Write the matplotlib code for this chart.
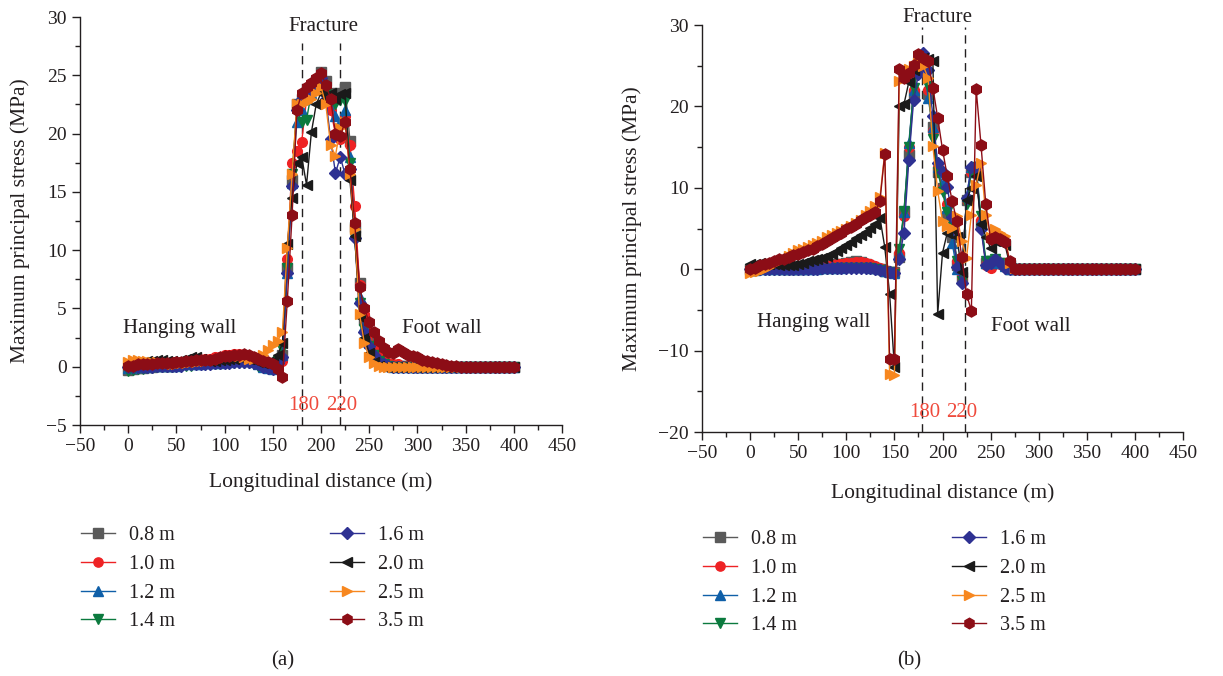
import numpy as np
import matplotlib
matplotlib.use('Agg')
import matplotlib.pyplot as plt
from matplotlib.lines import Line2D
from matplotlib.ticker import MultipleLocator

plt.rcParams['font.family'] = ['Liberation Serif', 'DejaVu Serif']
plt.rcParams['axes.unicode_minus'] = True

# Abscisses communes (m), pas de 5 m
x_dist = [0, 5, 10, 15, 20, 25, 30, 35, 40, 45,
          50, 55, 60, 65, 70, 75, 80, 85, 90, 95,
          100, 105, 110, 115, 120, 125, 130, 135, 140, 145,
          150, 155, 160, 165, 170, 175, 180, 185, 190, 195,
          200, 205, 210, 215, 220, 225, 230, 235, 240, 245,
          250, 255, 260, 265, 270, 275, 280, 285, 290, 295,
          300, 305, 310, 315, 320, 325, 330, 335, 340, 345,
          350, 355, 360, 365, 370, 375, 380, 385, 390, 395, 400]

# Panneau (a)
a_08 = [-0.3, -0.2, -0.1, -0.1, 0.0, 0.0, 0.1, 0.1, 0.1, 0.1,
        0.2, 0.2, 0.3, 0.3, 0.4, 0.4, 0.4, 0.4, 0.5, 0.5,
        0.6, 0.6, 0.7, 0.7, 0.6, 0.6, 0.5, 0.3, 0.1, 0.0,
        -0.1, 0.5, 1.0, 8.5, 16.0, 22.5, 23.0, 23.5, 24.0, 24.5,
        25.3, 24.5, 23.5, 23.0, 23.5, 24.0, 19.4, 12.0, 7.2, 4.0,
        2.5, 1.5, 0.8, 0.4, 0.2, 0.1, 0.1, 0.1, 0.1, 0.0,
        0.0, 0.0, 0.0, 0.0, 0.0, 0.0, 0.0, 0.0, 0.0, 0.0,
        0.0, 0.0, 0.0, 0.0, 0.0, 0.0, 0.0, 0.0, 0.0, 0.0, 0.0]
a_10 = [0.1, 0.1, 0.2, 0.2, 0.2, 0.3, 0.3, 0.3, 0.3, 0.4,
        0.4, 0.4, 0.5, 0.5, 0.6, 0.6, 0.7, 0.7, 0.8, 0.8,
        1.0, 1.0, 1.1, 1.1, 1.0, 0.9, 0.8, 0.6, 0.4, 0.2,
        0.0, 0.3, 0.5, 9.2, 17.5, 18.5, 19.3, 23.0, 24.0, 24.5,
        24.8, 23.5, 22.0, 20.0, 19.5, 21.5, 19.0, 13.8, 7.0, 4.5,
        3.0, 1.8, 1.0, 0.5, 0.3, 0.2, 0.2, 0.1, 0.1, 0.1,
        0.1, 0.0, 0.0, 0.0, 0.0, 0.0, 0.0, 0.0, 0.0, 0.0,
        0.0, 0.0, 0.0, 0.0, 0.0, 0.0, 0.0, 0.0, 0.0, 0.0, 0.0]
a_12 = [-0.1, -0.1, 0.0, 0.0, 0.0, 0.1, 0.1, 0.1, 0.1, 0.1,
        0.1, 0.2, 0.2, 0.2, 0.2, 0.2, 0.3, 0.3, 0.3, 0.3,
        0.4, 0.4, 0.5, 0.5, 0.5, 0.5, 0.4, 0.2, 0.0, -0.1,
        -0.2, 0.2, 1.0, 8.0, 15.8, 21.0, 22.0, 23.0, 23.5, 24.5,
        25.0, 24.0, 23.0, 21.5, 21.0, 22.0, 18.0, 11.5, 6.0, 3.5,
        2.0, 1.0, 0.5, 0.2, 0.1, 0.0, 0.0, 0.0, 0.0, 0.0,
        0.0, 0.0, 0.0, 0.0, 0.0, 0.0, 0.0, 0.0, 0.0, 0.0,
        0.0, 0.0, 0.0, 0.0, 0.0, 0.0, 0.0, 0.0, 0.0, 0.0, 0.0]
a_14 = [-0.4, -0.3, -0.2, -0.2, -0.1, -0.1, 0.0, 0.0, 0.0, 0.0,
        0.1, 0.1, 0.1, 0.1, 0.2, 0.2, 0.2, 0.2, 0.2, 0.2,
        0.3, 0.3, 0.3, 0.3, 0.3, 0.3, 0.2, 0.1, 0.0, -0.1,
        -0.2, 0.5, 1.5, 8.5, 16.5, 22.0, 21.0, 21.2, 23.5, 24.0,
        24.5, 23.5, 23.0, 22.5, 22.9, 22.8, 17.5, 11.0, 5.5, 3.2,
        1.8, 1.0, 0.5, 0.2, 0.1, 0.0, 0.0, 0.0, 0.0, 0.0,
        0.0, 0.0, 0.0, 0.0, 0.0, 0.0, 0.0, 0.0, 0.0, 0.0,
        0.0, 0.0, 0.0, 0.0, 0.0, 0.0, 0.0, 0.0, 0.0, 0.0, 0.0]
a_16 = [0.0, 0.0, 0.0, 0.0, 0.0, 0.0, 0.1, 0.1, 0.1, 0.1,
        0.1, 0.1, 0.2, 0.2, 0.2, 0.2, 0.2, 0.2, 0.3, 0.3,
        0.3, 0.3, 0.4, 0.4, 0.4, 0.4, 0.3, 0.2, 0.0, -0.1,
        -0.2, 0.3, 0.8, 8.0, 15.5, 22.0, 23.0, 23.5, 24.0, 24.5,
        24.8, 23.0, 19.5, 16.6, 18.0, 16.5, 17.0, 11.0, 5.5, 3.0,
        1.8, 1.0, 0.4, 0.2, 0.1, 0.0, 0.0, 0.0, 0.0, 0.0,
        0.0, 0.0, 0.0, 0.0, 0.0, 0.0, 0.0, 0.0, 0.0, 0.0,
        0.0, 0.0, 0.0, 0.0, 0.0, 0.0, 0.0, 0.0, 0.0, 0.0, 0.0]
a_20 = [0.2, 0.3, 0.4, 0.4, 0.5, 0.5, 0.6, 0.6, 0.5, 0.5,
        0.4, 0.6, 0.7, 0.8, 0.8, 0.7, 0.6, 0.5, 0.5, 0.6,
        0.6, 0.7, 0.7, 0.8, 0.8, 0.7, 0.6, 0.4, 0.3, 0.4,
        0.5, 1.0, 2.0, 10.5, 14.5, 17.5, 18.0, 15.6, 20.1, 22.5,
        23.5, 23.0, 23.5, 23.0, 23.4, 23.5, 16.0, 11.2, 4.3, 2.5,
        1.2, 0.4, 0.1, 0.0, 0.0, 0.0, 0.0, 0.0, 0.0, 0.0,
        0.0, 0.0, 0.0, 0.0, 0.0, 0.0, 0.0, 0.0, 0.0, 0.0,
        0.0, 0.0, 0.0, 0.0, 0.0, 0.0, 0.0, 0.0, 0.0, 0.0, 0.0]
a_25 = [0.4, 0.6, 0.6, 0.5, 0.5, 0.4, 0.4, 0.3, 0.3, 0.2,
        0.2, 0.3, 0.3, 0.4, 0.4, 0.5, 0.5, 0.6, 0.6, 0.7,
        0.8, 0.9, 0.9, 0.9, 0.8, 0.7, 0.7, 0.8, 1.0, 1.4,
        1.9, 2.2, 3.0, 10.2, 16.5, 22.5, 22.5, 22.7, 23.0, 23.5,
        24.0, 22.5, 19.0, 18.1, 20.5, 21.0, 16.5, 11.8, 4.5, 2.0,
        0.8, 0.3, 0.1, 0.0, 0.0, 0.0, 0.0, 0.0, 0.0, 0.0,
        0.0, 0.0, 0.0, 0.0, 0.0, 0.0, 0.0, 0.0, 0.0, 0.0,
        0.0, 0.0, 0.0, 0.0, 0.0, 0.0, 0.0, 0.0, 0.0, 0.0, 0.0]
a_35 = [0.1, 0.1, 0.2, 0.2, 0.2, 0.2, 0.3, 0.3, 0.3, 0.3,
        0.4, 0.4, 0.5, 0.5, 0.6, 0.6, 0.6, 0.6, 0.7, 0.8,
        0.9, 0.9, 1.0, 1.0, 1.1, 1.0, 0.8, 0.7, 0.5, 0.4,
        0.2, -0.2, -0.85, 5.6, 13.0, 22.0, 23.5, 24.0, 24.3, 24.8,
        25.2, 24.2, 23.0, 20.0, 19.8, 21.0, 17.0, 12.3, 6.8, 5.0,
        3.8, 3.0, 2.2, 1.6, 1.3, 1.2, 1.5, 1.3, 1.0, 0.9,
        0.8, 0.6, 0.5, 0.4, 0.3, 0.2, 0.15, 0.1, 0.1, 0.0,
        0.0, 0.0, 0.0, 0.0, 0.0, 0.0, 0.0, 0.0, 0.0, 0.0, 0.0]

# Panneau (b)
b_08 = [0.0, 0.0, 0.1, 0.1, 0.1, 0.1, 0.1, 0.0, 0.0, 0.0,
        0.0, 0.0, 0.1, 0.1, 0.2, 0.3, 0.4, 0.5, 0.6, 0.7,
        0.8, 0.9, 1.0, 0.9, 0.6, 0.4, 0.2, 0.0, -0.2, -0.3,
        -0.4, 1.5, 7.0, 14.0, 21.5, 25.0, 26.0, 21.5, 17.5, 12.0,
        10.0, 6.5, 4.0, 0.5, -1.0, 8.5, 12.0, 12.0, 5.5, 0.8,
        1.0, 1.0, 0.8, 0.5, 0.0, 0.0, 0.0, 0.0, 0.0, 0.0,
        0.0, 0.0, 0.0, 0.0, 0.0, 0.0, 0.0, 0.0, 0.0, 0.0,
        0.0, 0.0, 0.0, 0.0, 0.0, 0.0, 0.0, 0.0, 0.0, 0.0, 0.0]
b_10 = [0.0, 0.0, 0.1, 0.1, 0.1, 0.1, 0.1, 0.1, 0.1, 0.1,
        0.1, 0.1, 0.2, 0.2, 0.3, 0.3, 0.4, 0.5, 0.6, 0.6,
        0.8, 0.8, 0.9, 0.9, 0.8, 0.6, 0.4, 0.1, -0.1, -0.3,
        -0.4, 2.0, 6.5, 15.0, 22.0, 25.0, 26.2, 22.0, 17.0, 12.5,
        10.0, 8.0, 5.0, 1.0, -0.8, 8.5, 12.0, 12.0, 6.0, 0.5,
        0.2, 0.8, 0.6, 0.3, 0.0, 0.0, 0.0, 0.0, 0.0, 0.0,
        0.0, 0.0, 0.0, 0.0, 0.0, 0.0, 0.0, 0.0, 0.0, 0.0,
        0.0, 0.0, 0.0, 0.0, 0.0, 0.0, 0.0, 0.0, 0.0, 0.0, 0.0]
b_12 = [-0.1, -0.1, 0.0, 0.0, 0.0, 0.0, 0.0, 0.0, 0.0, 0.0,
        0.0, 0.0, 0.0, 0.0, 0.0, 0.1, 0.1, 0.1, 0.1, 0.2,
        0.3, 0.3, 0.3, 0.3, 0.3, 0.2, 0.1, 0.0, -0.2, -0.3,
        -0.5, 2.0, 7.0, 15.5, 22.0, 25.5, 26.0, 21.0, 17.5, 12.5,
        10.5, 7.5, 3.2, 0.0, -1.2, 9.0, 12.5, 12.0, 6.0, 0.8,
        0.8, 1.0, 0.8, 0.4, 0.0, 0.0, 0.0, 0.0, 0.0, 0.0,
        0.0, 0.0, 0.0, 0.0, 0.0, 0.0, 0.0, 0.0, 0.0, 0.0,
        0.0, 0.0, 0.0, 0.0, 0.0, 0.0, 0.0, 0.0, 0.0, 0.0, 0.0]
b_14 = [-0.2, -0.2, -0.1, -0.1, -0.1, -0.1, -0.1, -0.1, 0.0, 0.0,
        0.0, 0.0, 0.0, 0.0, 0.0, 0.0, 0.0, 0.0, 0.1, 0.1,
        0.2, 0.2, 0.2, 0.2, 0.1, 0.1, 0.0, -0.1, -0.3, -0.4,
        -0.6, 2.5, 7.2, 15.0, 22.3, 25.0, 25.7, 22.5, 16.0, 12.0,
        9.5, 7.0, 5.5, 1.0, -1.5, 8.0, 12.0, 12.5, 6.5, 1.0,
        1.0, 1.2, 0.8, 0.5, 0.0, 0.0, 0.0, 0.0, 0.0, 0.0,
        0.0, 0.0, 0.0, 0.0, 0.0, 0.0, 0.0, 0.0, 0.0, 0.0,
        0.0, 0.0, 0.0, 0.0, 0.0, 0.0, 0.0, 0.0, 0.0, 0.0, 0.0]
b_16 = [0.0, 0.0, 0.0, 0.0, 0.0, 0.0, 0.0, 0.0, 0.0, 0.0,
        0.0, 0.0, 0.0, 0.0, 0.0, 0.1, 0.1, 0.1, 0.1, 0.1,
        0.2, 0.2, 0.2, 0.2, 0.2, 0.1, 0.0, -0.1, -0.2, -0.3,
        -0.5, 1.3, 4.5, 13.4, 20.8, 24.0, 26.5, 24.5, 18.8, 13.0,
        11.9, 10.1, 6.4, 0.3, -1.7, 8.8, 12.6, 12.6, 5.0, 0.5,
        0.8, 1.2, 0.8, 0.2, 0.0, 0.0, 0.0, 0.0, 0.0, 0.0,
        0.0, 0.0, 0.0, 0.0, 0.0, 0.0, 0.0, 0.0, 0.0, 0.0,
        0.0, 0.0, 0.0, 0.0, 0.0, 0.0, 0.0, 0.0, 0.0, 0.0, 0.0]
b_20 = [0.6, 0.7, 0.8, 0.7, 0.6, 0.6, 0.5, 0.5, 0.5, 0.5,
        0.7, 0.8, 1.0, 1.1, 1.3, 1.4, 1.6, 1.9, 2.2, 2.6,
        3.0, 3.4, 3.8, 4.2, 4.6, 5.1, 5.6, 6.3, 2.7, -3.0,
        -12.0, 20.0, 20.3, 23.0, 24.5, 25.5, 26.0, 25.8, 25.6, -5.5,
        2.0, 4.5, 5.0, 4.0, -0.4, 8.5, 10.0, 11.4, 5.6, 4.0,
        2.6, 3.5, 3.5, 3.0, 0.5, 0.0, 0.0, 0.0, 0.0, 0.0,
        0.0, 0.0, 0.0, 0.0, 0.0, 0.0, 0.0, 0.0, 0.0, 0.0,
        0.0, 0.0, 0.0, 0.0, 0.0, 0.0, 0.0, 0.0, 0.0, 0.0, 0.0]
b_25 = [-0.5, -0.4, -0.2, 0.0, 0.3, 0.6, 1.0, 1.3, 1.6, 2.0,
        2.3, 2.5, 2.7, 3.0, 3.2, 3.5, 3.9, 4.2, 4.5, 4.7,
        5.0, 5.3, 5.7, 6.1, 6.6, 7.2, 7.8, 8.9, 14.3, -12.9,
        -13.0, 23.1, 24.1, 24.6, 25.0, 25.3, 25.0, 23.5, 15.1, 9.6,
        5.9, 5.3, 5.1, 6.5, 3.5, 1.4, 6.7, 10.4, 13.1, 6.7,
        4.0, 4.9, 4.5, 4.1, 0.8, 0.1, 0.0, 0.0, 0.0, 0.0,
        0.0, 0.0, 0.0, 0.0, 0.0, 0.0, 0.0, 0.0, 0.0, 0.0,
        0.0, 0.0, 0.0, 0.0, 0.0, 0.0, 0.0, 0.0, 0.0, 0.0, 0.0]
b_35 = [0.0, 0.2, 0.5, 0.6, 0.8, 1.0, 1.2, 1.3, 1.5, 1.7,
        1.9, 2.1, 2.3, 2.5, 2.8, 3.1, 3.5, 3.8, 4.2, 4.5,
        4.9, 5.2, 5.6, 6.0, 6.4, 6.7, 7.0, 8.4, 14.2, -11.0,
        -11.0, 24.6, 23.5, 24.1, 25.1, 26.4, 26.0, 25.6, 22.3, 18.6,
        14.7, 11.4, 8.4, 5.9, 1.5, -3.1, -5.1, 22.1, 15.3, 8.0,
        3.7, 3.9, 3.7, 3.3, 1.0, 0.0, 0.0, 0.0, 0.0, 0.0,
        0.0, 0.0, 0.0, 0.0, 0.0, 0.0, 0.0, 0.0, 0.0, 0.0,
        0.0, 0.0, 0.0, 0.0, 0.0, 0.0, 0.0, 0.0, 0.0, 0.0, 0.0]

labels = ['0.8 m', '1.0 m', '1.2 m', '1.4 m', '1.6 m', '2.0 m', '2.5 m', '3.5 m']
couleurs = ['#5a5a5a', '#ee2224', '#0f5fa8', '#0b7a3e', '#2e3192', '#1a1a1a', '#f7871f', '#8c0d16']
marqueurs = ['s', 'o', '^', 'v', 'D', '<', '>', 'h']
tailles = [7, 7, 7.5, 7.5, 6.5, 7.5, 7.5, 8]

series_a = [a_08, a_10, a_12, a_14, a_16, a_20, a_25, a_35]
series_b = [b_08, b_10, b_12, b_14, b_16, b_20, b_25, b_35]

texte = '#231f20'
rouge_txt = '#ef4a3c'

fig = plt.figure(figsize=(12.23, 6.76), dpi=100)
ax_a = fig.add_axes([80 / 1223, 1 - 425 / 676, (562 - 80) / 1223, (425 - 17) / 676])
ax_b = fig.add_axes([702 / 1223, 1 - 432 / 676, (1183 - 702) / 1223, (432 - 25) / 676])


def style_axe(ax, ylim, ymaj, ymin, pad_x):
    ax.set_xlim(-50, 450)
    ax.set_ylim(*ylim)
    ax.xaxis.set_major_locator(MultipleLocator(50))
    ax.xaxis.set_minor_locator(MultipleLocator(25))
    ax.yaxis.set_major_locator(MultipleLocator(ymaj))
    ax.yaxis.set_minor_locator(MultipleLocator(ymin))
    for s in ['top', 'right']:
        ax.spines[s].set_visible(False)
    for s in ['left', 'bottom']:
        ax.spines[s].set_color(texte)
        ax.spines[s].set_linewidth(1.0)
    ax.tick_params(which='major', direction='out', length=6, width=1, colors=texte, labelsize=14)
    ax.tick_params(which='minor', direction='out', length=3.5, width=1, colors=texte)
    ax.set_xlabel('Longitudinal distance (m)', fontsize=15.5, color=texte, labelpad=pad_x)
    ax.set_ylabel('Maximum principal stress (MPa)', fontsize=15.5, color=texte, labelpad=12)


def trace(ax, x, series):
    for y, lab, c, m, ms in zip(series, labels, couleurs, marqueurs, tailles):
        ax.plot(x, y, color=c, marker=m, markersize=ms, lw=1.0, label=lab, clip_on=False)


# Panneau (a)
style_axe(ax_a, (-5, 30), 5, 2.5, 12)
trace(ax_a, x_dist, series_a)
for xv in [180, 220]:
    ax_a.plot([xv, xv], [-5, 27.8], ls=(0, (6, 4)), color=texte, lw=1.0, clip_on=False, zorder=1)
ax_a.text(202, 29.2, 'Fracture', fontsize=15, color=texte, ha='center', va='center')
ax_a.text(182, -3.3, '180', fontsize=15, color=rouge_txt, ha='center', va='center')
ax_a.text(221, -3.3, '220', fontsize=15, color=rouge_txt, ha='center', va='center')
ax_a.text(53, 3.3, 'Hanging wall', fontsize=15, color=texte, ha='center', va='center')
ax_a.text(325, 3.3, 'Foot wall', fontsize=15, color=texte, ha='center', va='center')

# Panneau (b)
style_axe(ax_b, (-20, 30), 10, 5, 15)
trace(ax_b, x_dist, series_b)
for xv in [179, 223]:
    ax_b.plot([xv, xv], [-20, 29.8], ls=(0, (6, 4)), color=texte, lw=1.0, clip_on=False, zorder=1)
ax_b.text(195, 30.9, 'Fracture', fontsize=15, color=texte, ha='center', va='center')
ax_b.text(182, -17.6, '180', fontsize=15, color=rouge_txt, ha='center', va='center')
ax_b.text(220, -17.6, '220', fontsize=15, color=rouge_txt, ha='center', va='center')
ax_b.text(66, -6.6, 'Hanging wall', fontsize=15, color=texte, ha='center', va='center')
ax_b.text(292, -7.0, 'Foot wall', fontsize=15, color=texte, ha='center', va='center')

# Legendes (deux colonnes sous chaque panneau)
poignees = [Line2D([], [], color=c, marker=m, markersize=ms * 0.95, lw=1.0)
            for c, m, ms in zip(couleurs, marqueurs, tailles)]


def legende(x0, y0, idx):
    leg = fig.legend([poignees[i] for i in idx], [labels[i] for i in idx],
                     loc='upper left', bbox_to_anchor=(x0 / 1223, 1 - y0 / 676),
                     frameon=False, fontsize=14.5, handlelength=1.7, handletextpad=0.7,
                     labelspacing=0.48, borderpad=0, borderaxespad=0)
    for t in leg.get_texts():
        t.set_color(texte)
    return leg


legende(81, 526, [0, 1, 2, 3])
legende(330, 526, [4, 5, 6, 7])
legende(703, 530, [0, 1, 2, 3])
legende(952, 530, [4, 5, 6, 7])

fig.text(283 / 1223, 1 - 661 / 676, '(a)', fontsize=15, color=texte, ha='center', va='center')
fig.text(909 / 1223, 1 - 661 / 676, '(b)', fontsize=15, color=texte, ha='center', va='center')

fig.savefig('out.png', dpi=100)
